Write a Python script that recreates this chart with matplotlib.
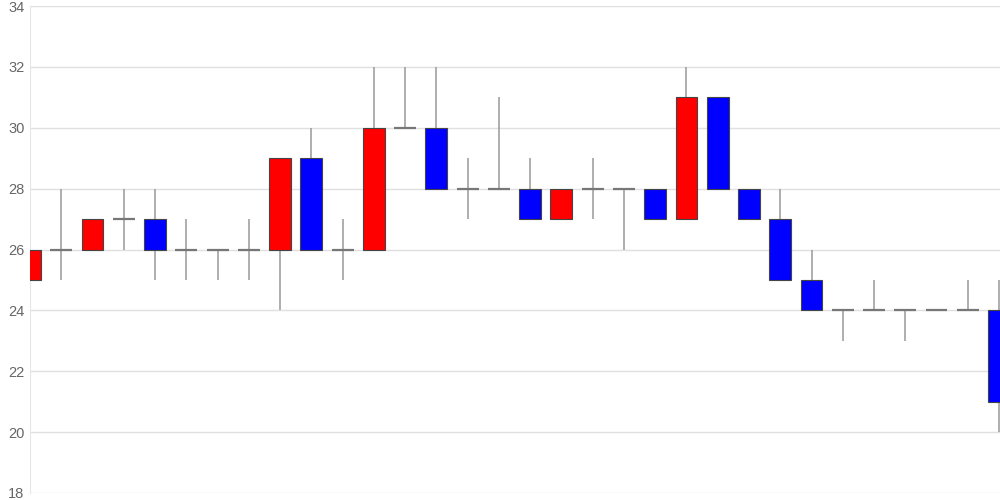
import matplotlib
matplotlib.use('Agg')
import matplotlib.pyplot as plt
from matplotlib.patches import Rectangle

plt.rcParams['font.family'] = ['Liberation Sans', 'DejaVu Sans']

# daily OHLC
opens  = [25, 26, 26, 27, 27, 26, 26, 26, 26, 29, 26, 26, 30, 30, 28, 28,
          28, 27, 28, 28, 28, 27, 31, 28, 27, 25, 24, 24, 24, 24, 24, 24]
closes = [26, 26, 27, 27, 26, 26, 26, 26, 29, 26, 26, 30, 30, 28, 28, 28,
          27, 28, 28, 28, 27, 31, 28, 27, 25, 24, 24, 24, 24, 24, 24, 21]
highs  = [26, 28, 27, 28, 28, 27, 26, 27, 29, 30, 27, 32, 32, 32, 29, 31,
          29, 28, 29, 28, 28, 32, 31, 28, 28, 26, 24, 25, 24, 24, 25, 25]
lows   = [25, 25, 26, 26, 25, 25, 25, 25, 24, 26, 25, 26, 30, 28, 27, 28,
          27, 27, 27, 26, 27, 27, 28, 27, 25, 24, 23, 24, 23, 24, 24, 20]
yticks = [18, 20, 22, 24, 26, 28, 30, 32, 34]

fig = plt.figure(figsize=(10, 5), dpi=100)
ax = fig.add_axes([0.03, 0.014, 0.97, 0.974])

w = 0.70
for i, (o, c, h, l) in enumerate(zip(opens, closes, highs, lows)):
    if h > l:
        ax.vlines(i, l, h, color='#999999', lw=1.1, zorder=2)
    if o == c:
        ax.hlines(o, i - w / 2, i + w / 2, color='#777777', lw=1.6, zorder=3)
    else:
        col = 'red' if c > o else 'blue'
        ax.add_patch(Rectangle((i - w / 2, min(o, c)), w, abs(c - o),
                               facecolor=col, edgecolor='#444444', lw=0.8, zorder=3))

ax.set_xlim(0, 31.03)
ax.set_ylim(18, 34)
ax.set_yticks(yticks)
ax.set_xticks([])
ax.grid(axis='y', color='#e0e0e0', lw=1)
ax.set_axisbelow(True)
for s in ['top', 'right', 'bottom']:
    ax.spines[s].set_visible(False)
ax.spines['left'].set_color('#e6e6e6')
ax.tick_params(axis='y', length=0, pad=4, labelsize=10.5, labelcolor='#666666')

fig.savefig('out.png', dpi=100)
